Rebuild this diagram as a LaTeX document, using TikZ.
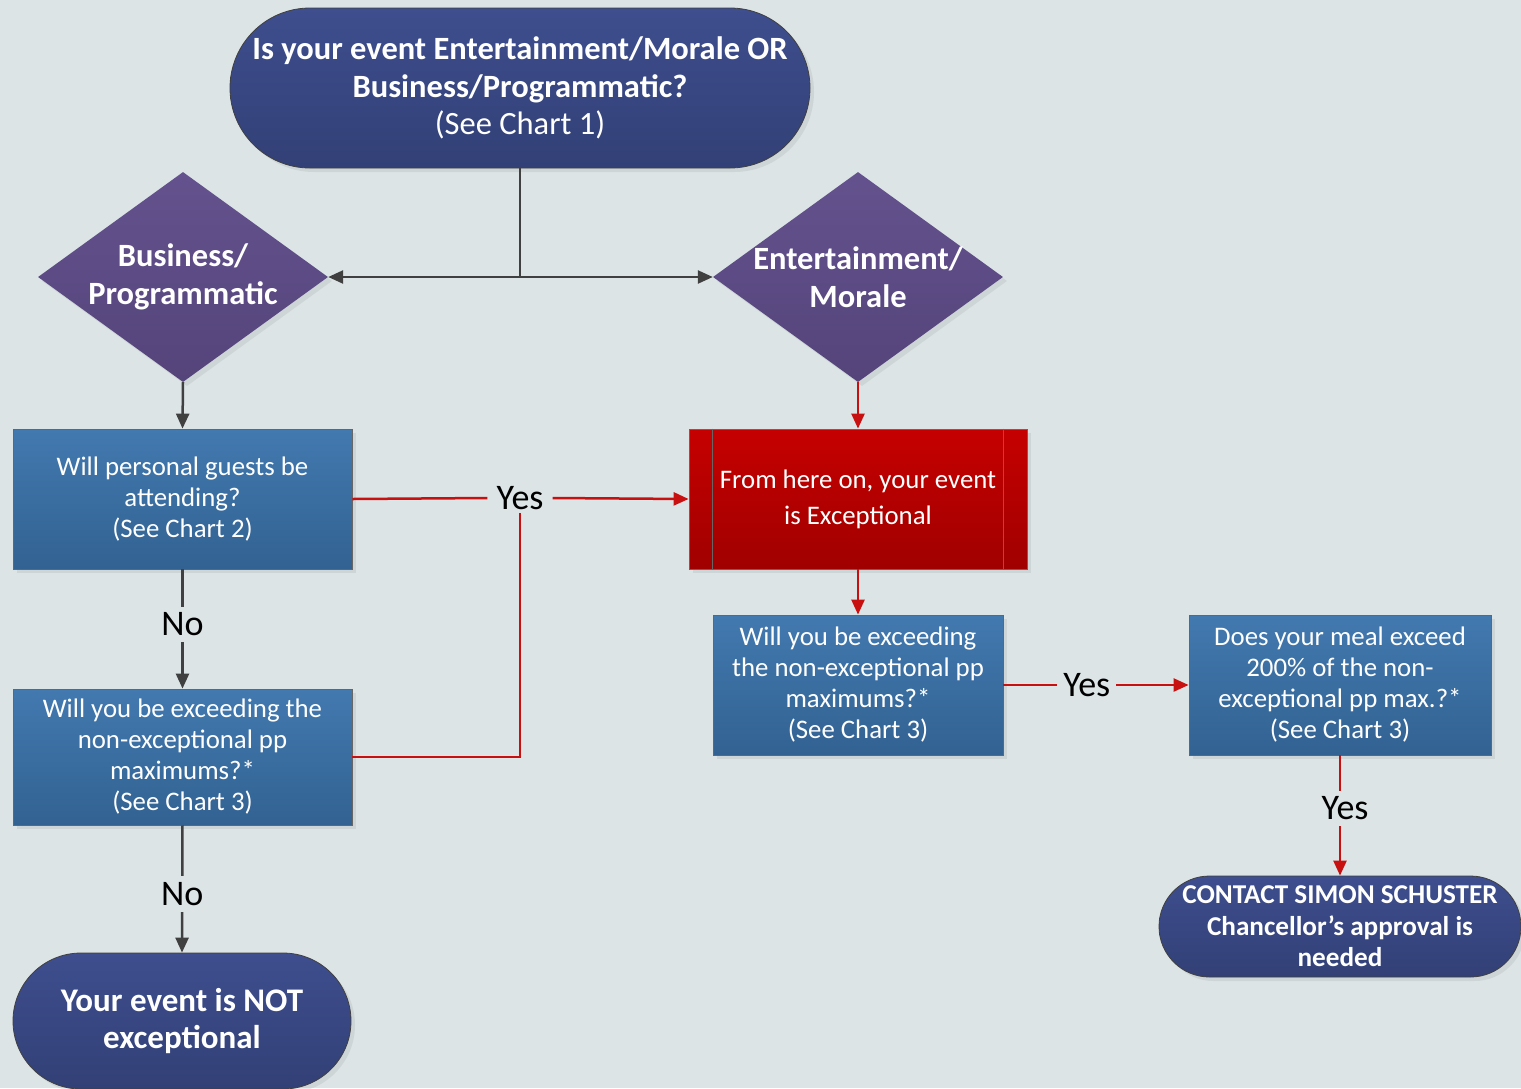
\documentclass[tikz,border=0pt]{standalone}
\usepackage{fontspec}
\setmainfont{Carlito}
\usepackage{tikz}
\usetikzlibrary{positioning,arrows.meta,shapes.geometric,shapes.misc,shadows}
\definecolor{bgcol}{RGB}{220,228,230}
\definecolor{termtop}{RGB}{62,78,142}
\definecolor{termbot}{RGB}{50,64,118}
\definecolor{dectop}{RGB}{100,82,142}
\definecolor{decbot}{RGB}{84,68,122}
\definecolor{boxtop}{RGB}{66,121,175}
\definecolor{boxbot}{RGB}{50,98,146}
\definecolor{extop}{RGB}{198,0,0}
\definecolor{exbot}{RGB}{160,0,0}
\definecolor{lnk}{RGB}{64,64,64}
\definecolor{redlnk}{RGB}{200,16,16}

\tikzset{
  shade/.style={drop shadow={opacity=0.15, shadow xshift=4pt, shadow yshift=-4pt}},
  terminal/.style={rounded rectangle, shade, top color=termtop, bottom color=termbot,
    draw=lnk, line width=0.8pt, text=white, align=center, inner sep=0pt},
  decision/.style={diamond, shade, top color=dectop, bottom color=decbot,
    inner sep=0pt, minimum width=290pt, minimum height=210pt},
  dlabel/.style={text=white, align=center, font=\fontsize{32.5}{38}\selectfont\bfseries},
  qbox/.style={rectangle, shade, top color=boxtop, bottom color=boxbot,
    draw=lnk!80, line width=0.8pt, text=white, align=center, inner sep=0pt,
    font=\fontsize{26.8}{31}\selectfont},
  exbox/.style={rectangle, shade, top color=extop, bottom color=exbot,
    draw=lnk!80, line width=0.8pt, text=white, align=center, inner sep=0pt,
    font=\fontsize{26.8}{36}\selectfont},
  yn/.style={fill=bgcol, inner sep=6pt, font=\fontsize{36}{40}\selectfont},
  glink/.style={draw=lnk, line width=2.5pt},
  rlink/.style={draw=redlnk, line width=2.5pt},
}

\begin{document}
\begin{tikzpicture}[x=1pt, y=-1pt, >={Triangle[length=15pt,width=13pt]}]
    % background
    \fill[bgcol] (0,0) rectangle (1521,1088);
    \useasboundingbox (0,0) rectangle (1521,1088);

    % start
    \node[terminal, minimum width=580pt, minimum height=160pt,
          font=\fontsize{32.5}{37.5}\selectfont] (start) at (520,88)
        {\textbf{Is your event Entertainment/Morale OR}\\
         \textbf{Business/Programmatic?}\\
         (See Chart 1)};

    % decisions
    \node[decision, label={[dlabel]center:Business/\\Programmatic}] (busi) at (183,277) {};
    \node[decision, label={[dlabel]center:Entertainment/\\Morale}] (ente) at (858,277) {};

    % left column
    \node[qbox, minimum width=339pt, minimum height=140pt] (guests) at (182.5,499)
        {Will personal guests be\\attending?\\(See Chart 2)};
    \node[qbox, minimum width=339pt, minimum height=136pt] (exceedl) at (182.5,757)
        {Will you be exceeding the\\non-exceptional pp\\maximums?*\\(See Chart 3)};
    \node[terminal, minimum width=338pt, minimum height=136pt,
          font=\fontsize{33}{37}\selectfont\bfseries] (notex) at (182,1021)
        {Your event is NOT\\exceptional};

    % exceptional
    \node[exbox, minimum width=338pt, minimum height=140pt] (excep) at (858,499)
        {From here on, your event\\is Exceptional};
    \draw[lnk!80, line width=0.8pt] (excep.north west) ++(24,0) -- ++(0,140);
    \draw[lnk!80, line width=0.8pt] (excep.north east) ++(-24,0) -- ++(0,140);

    % right column
    \node[qbox, minimum width=290pt, minimum height=140pt] (exceedr) at (858,685)
        {Will you be exceeding\\the non-exceptional pp\\maximums?*\\(See Chart 3)};
    \node[qbox, minimum width=302pt, minimum height=140pt] (meal) at (1340,685)
        {Does your meal exceed\\200\% of the non-\\exceptional pp max.?*\\(See Chart 3)};
    \node[terminal, minimum width=362pt, minimum height=101pt,
          font=\fontsize{27.2}{31.5}\selectfont\bfseries] (contact) at (1340,926.5)
        {CONTACT SIMON SCHUSTER\\Chancellor’s approval is\\needed};

    % yes label
    \node[yn, fill=none, inner sep=9pt, inner ysep=3pt] (yesl) at (520,498) {Yes};

    % links
    \coordinate (split) at (520,277);
    \draw[glink] (start) -- (split);
    \draw[glink, ->] (split) -- (busi.east);
    \draw[glink, ->] (split) -- (ente.west);
    \draw[glink, ->] (busi.south) -- (guests.north);
    \draw[glink, ->] (guests.south) -- node[yn, pos=0.46] {No} (exceedl.north);
    \draw[glink, ->] (exceedl.south) -- node[yn, pos=0.54] {No} (notex.north);

    \draw[rlink] (guests.east) -- (yesl.west);
    \draw[rlink, ->] (yesl.east) -- (excep.west);
    \draw[rlink] (exceedl.east) -| (yesl.south);
    \draw[rlink, ->] (ente.south) -- (excep.north);
    \draw[rlink, ->] (excep.south) -- (exceedr.north);
    \draw[rlink, ->] (exceedr.east) -- node[yn, pos=0.45] {Yes} (meal.west);
    \draw[rlink, ->] (meal.south) -- node[yn, pos=0.44, xshift=5pt] {Yes} (contact.north);
\end{tikzpicture}
\end{document}
